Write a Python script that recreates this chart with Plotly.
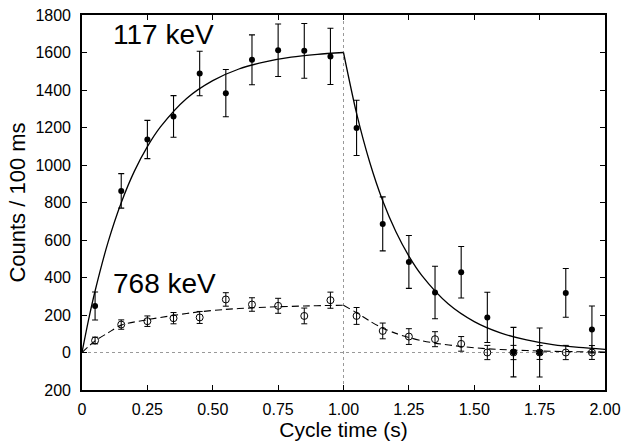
import plotly.graph_objects as go

# ---- data ----
t_bins = [0.05, 0.15, 0.25, 0.35, 0.45, 0.55, 0.65, 0.75, 0.85, 0.95,
          1.05, 1.15, 1.25, 1.35, 1.45, 1.55, 1.65, 1.75, 1.85, 1.95]

counts_117 = [248, 862, 1136, 1259, 1488, 1383, 1561, 1612, 1609, 1579,
              1198, 686, 483, 320, 428, 187, 2, 0, 318, 123]
err_117 = [75, 92, 102, 111, 119, 126, 133, 140, 146, 150,
           147, 144, 141, 140, 137, 134, 132, 131, 130, 125]

counts_768 = [64, 149, 167, 183, 187, 283, 256, 249, 195, 279,
              195, 115, 85, 71, 46, 0, 0, 0, 0, 0]
err_768 = [18, 25, 28, 30, 32, 36, 36, 40, 42, 43,
           45, 42, 42, 40, 39, 38, 38, 37, 38, 37]

# fitted curves
fit_rise_t = [0, 0.025, 0.05, 0.1, 0.15, 0.2, 0.25, 0.3, 0.4, 0.5, 0.6, 0.7, 0.8, 0.9, 1.0]
fit_rise_117 = [0, 174, 328, 590, 799, 966, 1098, 1203, 1355, 1450, 1512, 1550, 1575, 1590, 1600]
fit_decay_t = [1.0, 1.05, 1.1, 1.15, 1.2, 1.25, 1.3, 1.4, 1.5, 1.6, 1.7, 1.8, 1.9, 2.0]
fit_decay_117 = [1600, 1275, 1016, 809, 645, 514, 410, 260, 165, 105, 67, 42, 27, 17]

fit_rise_t_768 = [0, 0.05, 0.1, 0.15, 0.25, 0.35, 0.45, 0.55, 0.65, 0.75, 0.85, 0.95, 1.0]
fit_rise_768 = [0, 62, 105, 146, 175, 198, 217, 230, 238, 244, 248, 251, 252]
fit_decay_t_768 = [1.0, 1.05, 1.1, 1.15, 1.2, 1.25, 1.3, 1.35, 1.45, 1.55, 1.65, 1.75, 1.85, 2.0]
fit_decay_768 = [252, 212, 168, 130, 102, 80, 63, 50, 32, 20, 13, 8, 5, 3]

x_tickvals = [0, 0.25, 0.5, 0.75, 1.0, 1.25, 1.5, 1.75, 2.0]
x_ticktext = ["0", "0.25", "0.50", "0.75", "1.00", "1.25", "1.50", "1.75", "2.00"]
y_tickvals = [-200, 0, 200, 400, 600, 800, 1000, 1200, 1400, 1600, 1800]
y_ticktext = ["200", "0", "200", "400", "600", "800", "1000", "1200", "1400", "1600", "1800"]

beam_off_time = 1.0
label_117 = "117 keV"
label_768 = "768 keV"

FONT = "Liberation Sans, Arial, sans-serif"

fig = go.Figure()

# fit lines
for tx, ty in [(fit_rise_t, fit_rise_117), (fit_decay_t, fit_decay_117)]:
    fig.add_trace(go.Scatter(x=tx, y=ty, mode="lines",
                             line=dict(color="black", width=1.3, shape="spline", smoothing=0.8),
                             hoverinfo="skip", showlegend=False))
for tx, ty in [(fit_rise_t_768, fit_rise_768), (fit_decay_t_768, fit_decay_768)]:
    fig.add_trace(go.Scatter(x=tx, y=ty, mode="lines",
                             line=dict(color="black", width=1.1, dash="7px,4px",
                                       shape="spline", smoothing=0.8),
                             hoverinfo="skip", showlegend=False))

# data points
fig.add_trace(go.Scatter(
    x=t_bins, y=counts_768, mode="markers",
    marker=dict(symbol="circle-open", size=7, color="black", line=dict(width=1)),
    error_y=dict(type="data", array=err_768, visible=True, color="black",
                 thickness=1, width=3),
    showlegend=False))
fig.add_trace(go.Scatter(
    x=t_bins, y=counts_117, mode="markers",
    marker=dict(symbol="circle", size=6, color="black"),
    error_y=dict(type="data", array=err_117, visible=True, color="black",
                 thickness=1.1, width=3),
    showlegend=False))

# reference dotted lines
fig.add_shape(type="line", x0=beam_off_time, x1=beam_off_time, y0=-200, y1=1800,
              xref="x", yref="y", line=dict(color="#999999", width=1, dash="dot"), layer="below")
fig.add_shape(type="line", x0=0, x1=2, y0=0, y1=0,
              xref="x", yref="y", line=dict(color="#999999", width=1, dash="dot"), layer="below")

fig.add_annotation(x=0.11, y=1698, text=label_117, showarrow=False,
                   xanchor="left", yanchor="middle",
                   font=dict(family=FONT, size=28, color="black"))
fig.add_annotation(x=0.11, y=368, text=label_768, showarrow=False,
                   xanchor="left", yanchor="middle",
                   font=dict(family=FONT, size=28, color="black"))

axis_common = dict(showline=True, linecolor="black", linewidth=1.6, mirror="ticks",
                   ticks="inside", ticklen=5, tickwidth=1, tickcolor="black",
                   showgrid=False, zeroline=False, automargin=False,
                   tickfont=dict(family=FONT, size=16, color="black"))

fig.update_xaxes(range=[0, 2], tickvals=x_tickvals, ticktext=x_ticktext,
                 title=dict(text="Cycle time (s)", font=dict(family=FONT, size=21, color="black"),
                            standoff=2),
                 ticklabelstandoff=4, **axis_common)
fig.update_yaxes(range=[-200, 1800], tickvals=y_tickvals, ticktext=y_ticktext,
                 title=dict(text="Counts / 100 ms", font=dict(family=FONT, size=22, color="black"),
                            standoff=4),
                 ticklabelstandoff=6, **axis_common)

fig.update_layout(width=623, height=442,
                  margin=dict(l=82, r=18, t=15, b=52),
                  plot_bgcolor="white", paper_bgcolor="white",
                  font=dict(family=FONT, color="black"))

fig.write_html("out.html", config={"displayModeBar": False},
               post_script="document.body.style.margin='0';document.body.style.overflow='hidden';")
